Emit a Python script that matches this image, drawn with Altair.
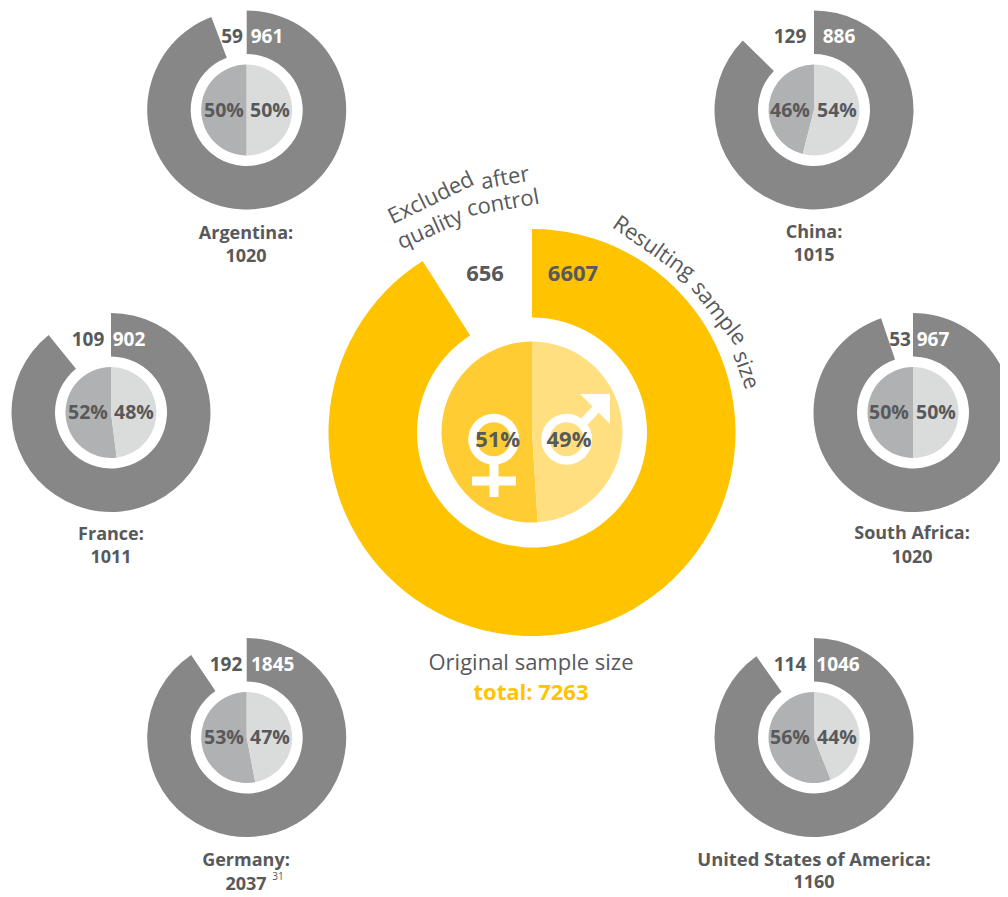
import altair as alt
import pandas as pd

FONT = "Open Sans"
DARK = "#58595b"
TAU = 6.283185307

# --- values ---
countries = ["Argentina", "China", "France", "South Africa", "Germany", "United States of America"]
kept = [961, 886, 902, 967, 1845, 1046]
excluded = [59, 129, 109, 53, 192, 114]
pct_left = [50, 46, 52, 50, 53, 56]
pct_right = [50, 54, 48, 50, 47, 44]
totals = [1020, 1015, 1011, 1020, 2037, 1160]

all_kept, all_excluded, all_total = 6607, 656, 7263
all_left, all_right = 51, 49

# --- layout (pixel coordinates in the page) ---
centres = {
    "Argentina": (246.7, 110), "China": (814, 110), "France": (111, 412.5),
    "South Africa": (913, 412.5), "Germany": (246.7, 737.5),
    "United States of America": (814, 737.5),
}
BIG = (532, 432.5)

X = alt.X("x:Q", scale=alt.Scale(domain=[8, 1000], range=[0, 992]), axis=None)
Y = alt.Y("y:Q", scale=alt.Scale(domain=[8, 897], range=[0, 889]), axis=None)
X2 = alt.X2("x2:Q")
Y2 = alt.Y2("y2:Q")
TH = alt.Theta("a:Q", scale=alt.Scale(domain=[0, 1], range=[0, TAU]), stack=None)
TH2 = alt.Theta2("b:Q")


def arcs(rows, r, r2=0):
    df = pd.DataFrame(rows, columns=["x", "y", "a", "b", "c"])
    return alt.Chart(df).mark_arc(radius=r, radius2=r2, strokeWidth=0).encode(
        x=X, y=Y, theta=TH, theta2=TH2, color=alt.Color("c:N", scale=None)
    )


small_ring, small_left, small_right = [], [], []
for n, k, e, pl, pr in zip(countries, kept, excluded, pct_left, pct_right):
    cx, cy = centres[n]
    small_ring.append((cx, cy, 0, k / (k + e), "#878787"))
    small_right.append((cx, cy, 0, pr / 100, "#dadbdb"))
    small_left.append((cx, cy, pr / 100, 1, "#b0b1b2"))

layers = [
    arcs(small_ring, 99.5, 56),
    arcs(small_left + small_right, 45.5),
    arcs([(BIG[0], BIG[1], 0, all_kept / all_total, "#ffc300")], 203.5, 115),
    arcs([(BIG[0], 432, all_right / 100, 1, "#ffcd33"),
          (BIG[0], 432, 0, all_right / 100, "#ffdf80")], 90.5),
    # gender symbols
    arcs([(493.7, 439.3, 0, 1, "white"), (566.7, 439.3, 0, 1, "white")], 25.5, 17),
]

rules = pd.DataFrame(
    [(494, 463, 494, 497), (472, 481, 516, 481), (582, 424, 600, 405)],
    columns=["x", "y", "x2", "y2"],
)
layers.append(
    alt.Chart(rules).mark_rule(color="white", strokeWidth=9).encode(x=X, y=Y, x2=X2, y2=Y2)
)
layers.append(
    alt.Chart(pd.DataFrame({"x": [595], "y": [409]}))
    .mark_point(shape="M-1,-1L1,-1L1,1Z", size=900, filled=True, color="white", opacity=1, strokeWidth=0)
    .encode(x=X, y=Y)
)

# x, y, text, size, colour, angle
bold = [
    (232, 37, "59", 19, DARK, 0), (267, 37, "961", 19, "white", 0),
    (224, 110.5, "50%", 19.5, DARK, 0), (270, 110.5, "50%", 19.5, DARK, 0),
    (246, 234, "Argentina:", 18, DARK, 0), (246, 257, "1020", 18, DARK, 0),
    (790, 37, "129", 19, DARK, 0), (839, 37, "886", 19, "white", 0),
    (790, 111, "46%", 19.5, DARK, 0), (837, 111, "54%", 19.5, DARK, 0),
    (814, 233, "China:", 18, DARK, 0), (814, 256, "1015", 18, DARK, 0),
    (88, 340, "109", 19, DARK, 0), (129, 340, "902", 19, "white", 0),
    (88, 413, "52%", 19.5, DARK, 0), (134, 413, "48%", 19.5, DARK, 0),
    (111, 535, "France:", 18, DARK, 0), (111, 558, "1011", 18, DARK, 0),
    (900, 340, "53", 19, DARK, 0), (933, 340, "967", 19, "white", 0),
    (889, 413, "50%", 19.5, DARK, 0), (936, 413, "50%", 19.5, DARK, 0),
    (912, 534, "South Africa:", 18, DARK, 0), (912, 558, "1020", 18, DARK, 0),
    (226, 665, "192", 19, DARK, 0), (272.7, 665, "1845", 19, "white", 0),
    (224, 738, "53%", 19.5, DARK, 0), (270, 738, "47%", 19.5, DARK, 0),
    (246, 861, "Germany:", 18, DARK, 0), (246, 885, "2037", 18, DARK, 0),
    (790, 665, "114", 19, DARK, 0), (838, 665, "1046", 19, "white", 0),
    (790, 738, "56%", 19.5, DARK, 0), (837, 738, "44%", 19.5, DARK, 0),
    (814, 860, "United States of America:", 18.4, DARK, 0), (814, 883, "1160", 18, DARK, 0),
    (485, 274, "656", 22, DARK, 0), (573, 274, "6607", 22, DARK, 0),
    (497.7, 440, "51%", 22, DARK, 0), (569, 440, "49%", 22, DARK, 0),
    (531, 693, "total: 7263", 22, "#ffc300", 0),
]
regular = [
    (531, 663, "Original sample size", 22, DARK, 0),
    (278, 877, "31", 10, DARK, 0),
    (431, 198, "Excluded", 22, DARK, -26), (505, 178, "after", 22, DARK, -10),
    (430, 229, "quality", 22, DARK, -24), (503, 203, "control", 22, DARK, -10),
    (654, 248, "Resulting", 22, DARK, 35), (719, 313, "sample", 22, DARK, 52),
    (746, 370, "size", 22, DARK, 70),
]


def labels(rows, weight):
    df = pd.DataFrame(rows, columns=["x", "y", "t", "s", "c", "r"])
    df["r"] = df["r"] % 360
    return alt.Chart(df).mark_text(font=FONT, fontWeight=weight, align="center", baseline="middle").encode(
        x=X, y=Y, text="t:N",
        size=alt.Size("s:Q", scale=None),
        color=alt.Color("c:N", scale=None),
        angle=alt.Angle("r:Q", scale=None),
    )


layers += [labels(bold, "bold"), labels(regular, "normal")]

chart = (
    alt.layer(*layers)
    .properties(width=992, height=889, padding=0, autosize=alt.AutoSizeParams(type="none"))
    .configure_view(stroke=None)
)
chart.save("out.html", embed_options={"renderer": "svg", "actions": False})
